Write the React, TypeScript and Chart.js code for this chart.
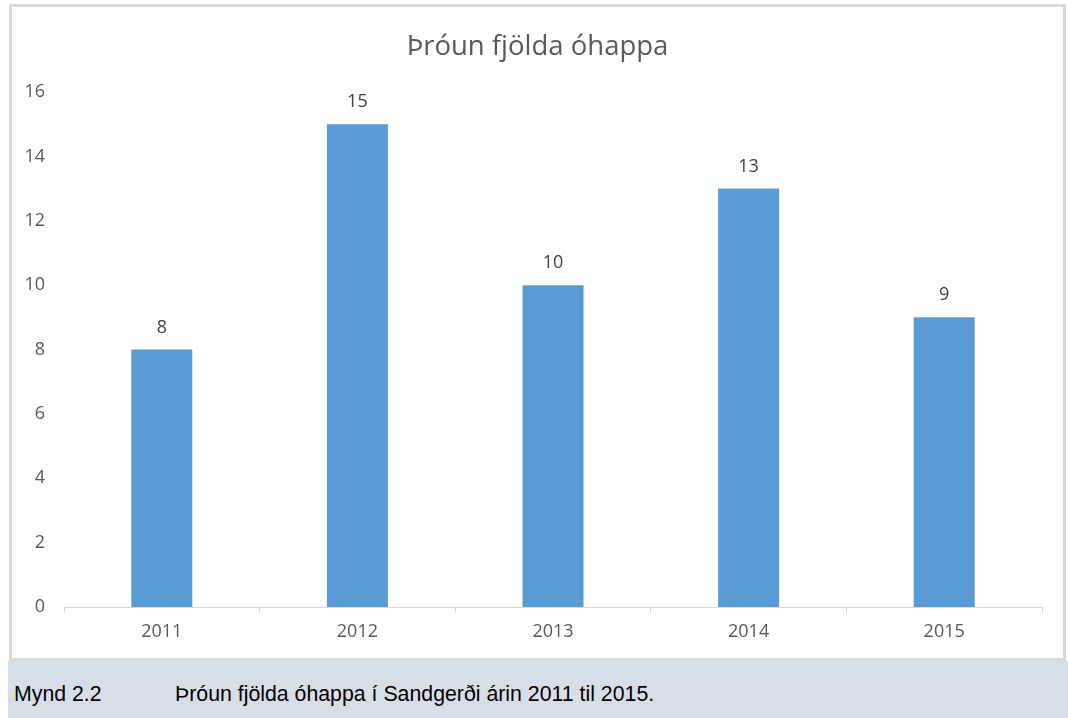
import React, { useEffect, useRef } from "react";
import { Chart, registerables } from "chart.js";

Chart.register(...registerables);

const categories: string[] = ["2011", "2012", "2013", "2014", "2015"];
const accidents: number[] = [8, 15, 10, 13, 9];
const yTicks: number[] = [0, 2, 4, 6, 8, 10, 12, 14, 16];
const chartTitle = "Þróun fjölda óhappa";
const captionLabel = "Mynd 2.2";
const captionText = "Þróun fjölda óhappa í Sandgerði árin 2011 til 2015.";

const FONT = "'Open Sans', 'Noto Sans', sans-serif";
const TEXT = "#595959";

const dataLabels = {
  id: "dataLabels",
  afterLayout(chart: any) {
    const y = chart.scales.y;
    if (y) {
      y.left = 0;
      y.width = y.right;
    }
  },
  afterDatasetsDraw(chart: any) {
    const ctx = chart.ctx;
    const meta = chart.getDatasetMeta(0);
    const ds = chart.data.datasets[0];
    ctx.save();
    ctx.font = `18px ${FONT}`;
    ctx.fillStyle = "#404040";
    ctx.textAlign = "center";
    ctx.textBaseline = "middle";
    meta.data.forEach((bar: any, i: number) => {
      ctx.fillText(String(ds.data[i]), bar.x, bar.y - 22);
    });
    ctx.restore();
  },
};

export default function App() {
  const ref = useRef<HTMLCanvasElement | null>(null);
  useEffect(() => {
    if (!ref.current) return;
    const chart = new Chart(ref.current, {
      type: "bar",
      data: {
        labels: categories,
        datasets: [
          {
            data: accidents,
            backgroundColor: "#5b9bd5",
            borderWidth: 0,
            categoryPercentage: 1,
            barPercentage: 0.312,
          },
        ],
      },
      options: {
        animation: false,
        responsive: false,
        maintainAspectRatio: false,
        layout: { padding: { left: 21, right: 21, top: 0, bottom: 0 } },
        plugins: {
          legend: { display: false },
          tooltip: { enabled: false },
          title: {
            display: true,
            text: chartTitle,
            color: TEXT,
            font: { family: FONT, size: 27.5, weight: "normal" as any, lineHeight: 1.2 },
            padding: { top: 24, bottom: 28 },
          },
        },
        scales: {
          x: {
            grid: {
              display: true,
              drawOnChartArea: false,
              drawTicks: true,
              tickLength: 6,
              color: "#d9d9d9",
              offset: true,
            },
            border: { display: true, color: "#d9d9d9", width: 1 },
            ticks: { color: TEXT, font: { family: FONT, size: 18 }, padding: 8 },
            afterFit: (s: any) => {
              s.height = 51;
            },
          },
          y: {
            min: 0,
            max: 16,
            afterBuildTicks: (s: any) => {
              s.ticks = yTicks.map((v) => ({ value: v }));
            },
            grid: { display: false, drawTicks: false },
            border: { display: false },
            ticks: { color: TEXT, font: { family: FONT, size: 18 }, padding: 19 },
            afterFit: (s: any) => {
              s.width = 31;
            },
          },
        },
      },
      plugins: [dataLabels],
    });
    return () => chart.destroy();
  }, []);

  return (
    <div style={{ position: "fixed", left: 0, top: 0, width: 1068, height: 718, background: "#fff", overflow: "hidden" }}>
      <div
        style={{
          position: "absolute",
          left: 9,
          top: 4,
          width: 1057,
          height: 657,
          border: "3px solid #d9d9d9",
          boxSizing: "border-box",
          background: "#fff",
        }}
      >
        <canvas ref={ref} width={1051} height={651} style={{ display: "block" }} />
      </div>
      <div
        style={{
          position: "absolute",
          left: 8,
          top: 661,
          width: 1060,
          height: 57,
          background: "#d7dee7",
          fontFamily: "'Liberation Sans', Arial, sans-serif",
          fontSize: 21.3,
          color: "#000",
        }}
      >
        <span style={{ position: "absolute", left: 6, top: 21 }}>{captionLabel}</span>
        <span style={{ position: "absolute", left: 167, top: 21 }}>{captionText}</span>
      </div>
    </div>
  );
}
